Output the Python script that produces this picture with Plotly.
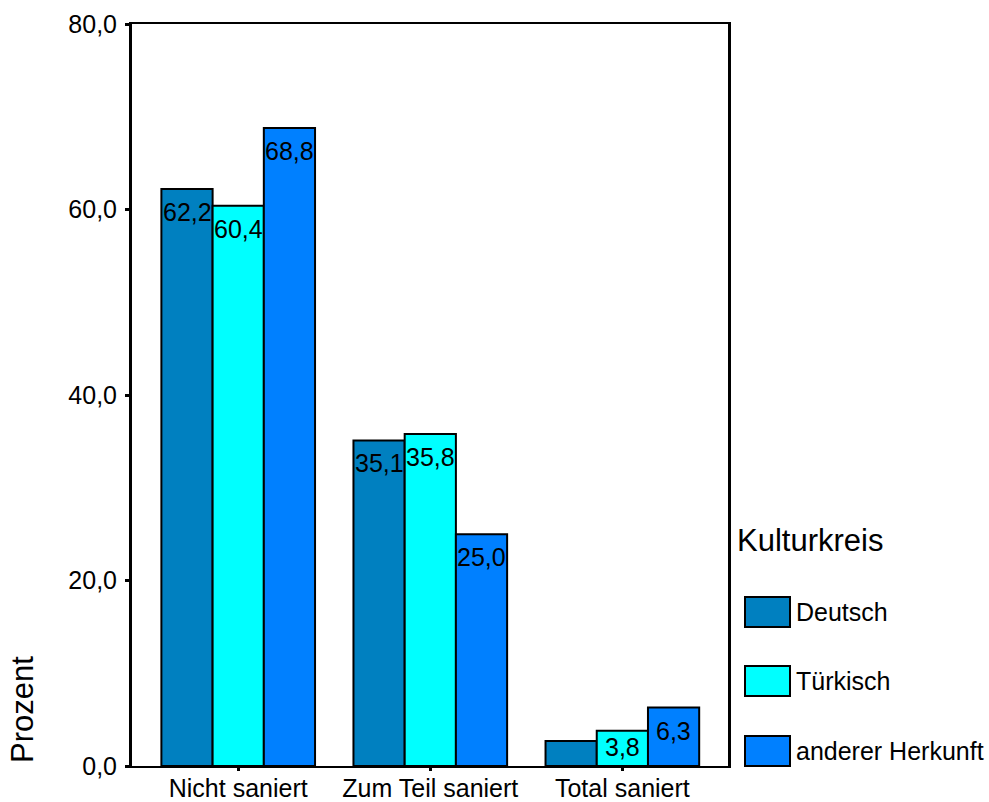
import plotly.graph_objects as go

# Data: share of households (percent) per renovation status and cultural background
categories = ["Nicht saniert", "Zum Teil saniert", "Total saniert"]
deutsch = [62.2, 35.1, 2.7]
tuerkisch = [60.4, 35.8, 3.8]
anderer = [68.8, 25.0, 6.3]

series_names = ["Deutsch", "Türkisch", "anderer Herkunft"]
series_values = [deutsch, tuerkisch, anderer]
series_colors = ["#0080C0", "#00FFFF", "#0080FF"]

W, H = 989, 802
L, R, T, B = 132, 261, 24, 36
FONT = "Liberation Sans, Arial, sans-serif"
FS = 25
BARGAP = 0.2

fig = go.Figure()
for name, vals, col in zip(series_names, series_values, series_colors):
    fig.add_trace(go.Bar(
        x=categories, y=vals, name=name,
        marker=dict(color=col, line=dict(color="black", width=2)),
        showlegend=False,
    ))

# value labels at the top inside each bar (bars under 3 % stay unlabelled)
n = len(series_values)
bw = (1 - BARGAP) / n
annotations = []
for k, vals in enumerate(series_values):
    for ci, v in enumerate(vals):
        if v < 3:
            continue
        annotations.append(dict(
            x=ci + (k - (n - 1) / 2) * bw, y=v, xref="x", yref="y",
            xanchor="center", yanchor="top", yshift=-7 if v >= 5 else 0,
            showarrow=False, text=f"{v:.1f}".replace(".", ","),
            font=dict(family=FONT, size=FS, color="black")))

# pixel -> paper helpers for the hand-drawn legend
pw, ph = W - L - R, H - T - B
def px(x):
    return (x - L) / pw
def py(y):
    return (H - B - y) / ph

shapes = []
legend_rows = [612, 681, 751]
for name, col, yc in zip(series_names, series_colors, legend_rows):
    shapes.append(dict(type="rect", xref="paper", yref="paper",
                       x0=px(745), x1=px(790), y0=py(yc - 15), y1=py(yc + 15),
                       fillcolor=col, line=dict(color="black", width=2)))
    annotations.append(dict(xref="paper", yref="paper", x=px(794), y=py(yc),
                            xanchor="left", yanchor="middle", showarrow=False,
                            text=name, font=dict(family=FONT, size=FS, color="black")))

annotations.append(dict(xref="paper", yref="paper", x=px(735), y=py(540),
                        xanchor="left", yanchor="middle", showarrow=False,
                        text="Kulturkreis", font=dict(family=FONT, size=31, color="black")))
annotations.append(dict(xref="paper", yref="paper", x=px(22), y=py(710),
                        xanchor="center", yanchor="middle", showarrow=False, textangle=-90,
                        text="Prozent", font=dict(family=FONT, size=31, color="black")))

fig.update_layout(
    width=W, height=H,
    margin=dict(l=L, r=R, t=T, b=B, autoexpand=False),
    paper_bgcolor="white", plot_bgcolor="white",
    barmode="group", bargap=BARGAP, bargroupgap=0,
    separators=",.",
    font=dict(family=FONT, size=FS, color="black"),
    shapes=shapes, annotations=annotations,
)
fig.update_xaxes(type="category", range=[-0.553, 2.55],
                 showline=True, linecolor="black", linewidth=2, mirror=True,
                 ticks="outside", ticklen=3, tickwidth=3, tickcolor="black",
                 ticklabelstandoff=-4,
                 showgrid=False, tickfont=dict(family=FONT, size=FS, color="black"))
fig.update_yaxes(range=[0, 80], dtick=20, tickformat=".1f",
                 showline=True, linecolor="black", linewidth=3, mirror=True,
                 ticks="outside", ticklen=4, tickwidth=3, tickcolor="black",
                 ticklabelstandoff=3,
                 showgrid=False, zeroline=False,
                 tickfont=dict(family=FONT, size=FS, color="black"))

fig.write_html("out.html")
